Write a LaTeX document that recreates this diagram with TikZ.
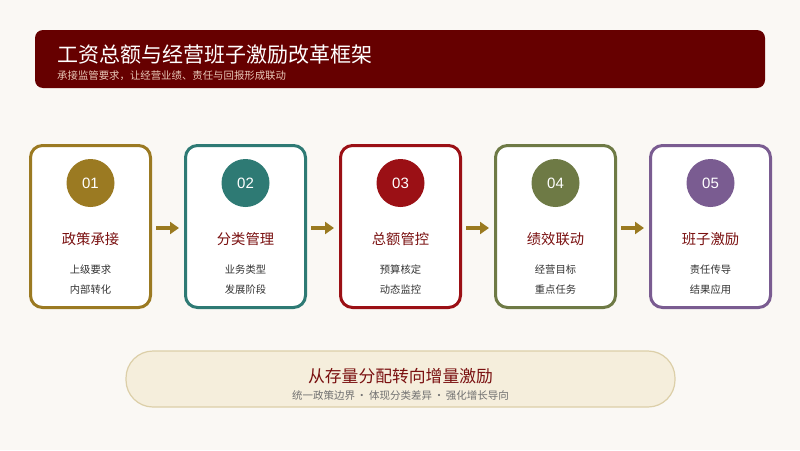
\documentclass[tikz,border=0pt]{standalone}
\usepackage{fontspec}
\setmainfont{Noto Sans CJK SC}
\newfontfamily\numfont{Liberation Sans}
\usetikzlibrary{arrows.meta}
\definecolor{bg}{HTML}{FAF8F4}
\definecolor{hdr}{HTML}{660000}
\definecolor{hsub}{HTML}{E8C8B8}
\definecolor{cgold}{HTML}{9B7A22}
\definecolor{cteal}{HTML}{2E7A74}
\definecolor{cred}{HTML}{9B1015}
\definecolor{colive}{HTML}{6E7A45}
\definecolor{cpurp}{HTML}{7A5C91}
\definecolor{ttl}{HTML}{7A1010}
\definecolor{itm}{HTML}{333333}
\definecolor{pillf}{HTML}{F5EEDC}
\definecolor{pilld}{HTML}{DCCFA8}
\definecolor{arr}{HTML}{9A7A20}
\definecolor{subg}{HTML}{707070}
\tikzset{
  card/.style={draw=#1, line width=3pt, fill=white, rounded corners=12pt, minimum width=120pt, minimum height=162pt, inner sep=0pt},
  numc/.style={circle, fill=#1, minimum size=48pt, inner sep=0pt, text=white, font=\numfont\fontsize{15}{18}\selectfont},
  ctitle/.style={text=ttl, font=\fontsize{14.3}{17}\selectfont},
  citem/.style={text=itm, font=\fontsize{10.3}{12}\selectfont},
  flow/.style={-{Triangle[length=9pt,width=12pt]}, draw=arr, line width=4pt}
}
\begin{document}
\begin{tikzpicture}[x=1pt,y=-1pt]
\fill[bg] (0,0) rectangle (800,450);
\useasboundingbox (0,0) rectangle (800,450);
\node[fill=hdr, rounded corners=8pt, minimum width=730pt, minimum height=58pt, inner sep=0pt] (hdr) at (400,59) {};
\node[anchor=west, text=white, font=\fontsize{21}{24}\selectfont, inner sep=0pt] (htitle) at (57,55) {工资总额与经营班子激励改革框架};
\node[anchor=west, text=hsub, font=\fontsize{10.4}{12}\selectfont, inner sep=0pt] (hsub) at (57,76) {承接监管要求，让经营业绩、责任与回报形成联动};
\foreach \i/\c/\t/\a/\b in {1/cgold/政策承接/上级要求/内部转化, 2/cteal/分类管理/业务类型/发展阶段, 3/cred/总额管控/预算核定/动态监控, 4/colive/绩效联动/经营目标/重点任务, 5/cpurp/班子激励/责任传导/结果应用}{
  \pgfmathsetmacro{\cx}{90.5+155*(\i-1)}
  \node[card=\c] (card\i) at (\cx,226.5) {};
  \node[numc=\c] (num\i) at (\cx,183) {0\i};
  \node[ctitle] (t\i) at (\cx,239) {\t};
  \node[citem] (a\i) at (\cx,270) {\a};
  \node[citem] (b\i) at (\cx,290) {\b};
}
\foreach \i/\j in {1/2,2/3,3/4,4/5}{
  \draw[flow] ([xshift=4pt,yshift=-1.5pt]card\i.east) -- ([xshift=-5pt,yshift=-1.5pt]card\j.west);
}
\node[draw=pilld, line width=1.2pt, fill=pillf, rounded corners=27pt, minimum width=549pt, minimum height=56pt, inner sep=0pt] (pill) at (400.5,379) {};
\node[text=ttl, font=\fontsize{16.8}{20}\selectfont] (ptitle) at (400.5,376) {从存量分配转向增量激励};
\node[text=subg, font=\fontsize{10.5}{12}\selectfont] (psub) at (400.5,396) {统一政策边界\,·\,体现分类差异\,·\,强化增长导向};
\end{tikzpicture}
\end{document}
